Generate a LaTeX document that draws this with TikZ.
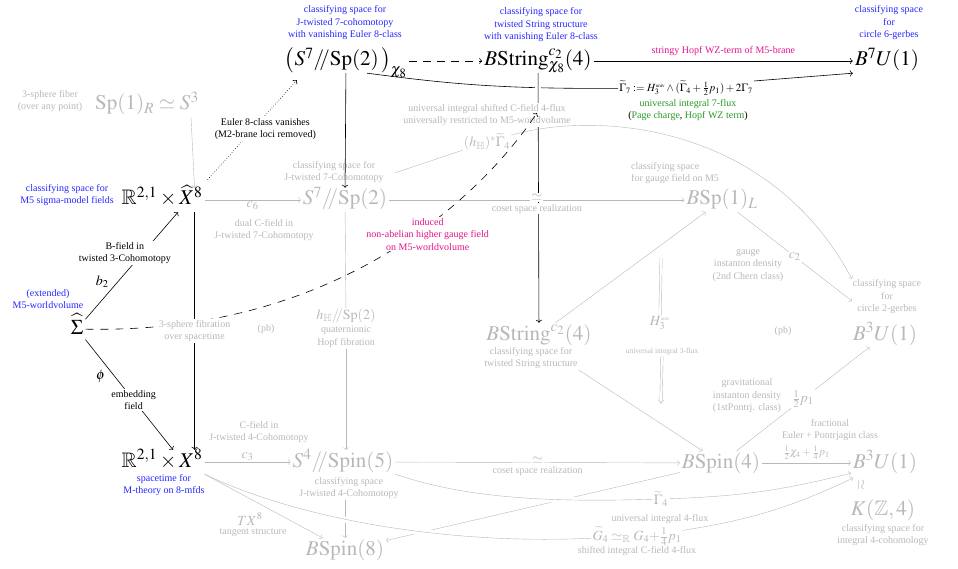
\documentclass[tikz,border=0pt]{standalone}
\usepackage{amsmath,amssymb}
\usepackage{mathptmx}
\usepackage[no-math]{fontspec}
\setmainfont{Liberation Serif}
\usepackage{graphicx}
\usetikzlibrary{arrows.meta}

\definecolor{fadedgray}{gray}{0.72}
\definecolor{bluetext}{rgb}{0.15,0.15,1}
\definecolor{pinktext}{rgb}{0.9,0.08,0.55}
\definecolor{greentext}{rgb}{0.15,0.6,0.15}

\begin{document}
\begin{tikzpicture}[x=1pt,y=-1pt,
  bigmath/.style={font=\fontsize{21}{25}\selectfont,text height=15pt,text depth=5pt,inner sep=2pt},
  midmath/.style={font=\fontsize{14}{17}\selectfont,inner sep=1pt},
  note/.style={font=\fontsize{10}{12.5}\selectfont,align=center,inner sep=1pt},
  faded/.style={text=fadedgray},
  fadedline/.style={draw=fadedgray,->},
  halo/.style={preaction={draw=white,line width=6pt,-,shorten <=4pt,shorten >=4pt}}]
\useasboundingbox (0,0) rectangle (958,569);

% top row
\node[bigmath] (cohS7) at (346,61) {$\big(S^7/\!\!/\mathrm{Sp}(2)\,\big)_{\chi_8}$};
\node[bigmath] (BStrChi) at (538,61) {$B\mathrm{String}^{c_2}_{\chi_8}(4)$};
\node[bigmath] (B7U1) at (887,61) {$B^7U(1)$};
\node[note,text=bluetext] (cohS7note) at (345,23) {classifying space for\\J-twisted 7-cohomotopy\\with vanishing Euler 8-class};
\node[note,text=bluetext] (BStrChinote) at (541,25) {classifying space for\\twisted String structure\\with vanishing Euler 8-class};
\node[note,text=bluetext] (B7U1note) at (889,23) {classifying space\\for\\circle 6-gerbes};
\node[font=\fontsize{11}{13}\selectfont,inner sep=1pt] (gam7) at (686,88) {$\widetilde{\Gamma}_7 := H_3^{\mbox{\tiny univ}}\wedge(\widetilde{\Gamma}_4+\tfrac{1}{2}p_1)+2\Gamma_7$};
\node[note] (gam7note) at (688,110) {\textcolor{greentext}{universal integral 7-flux}\\(\textcolor{greentext}{Page charge}, \textcolor{greentext}{Hopf WZ term})};

% left column
\node[bigmath,faded] (Sp1R) at (147,105) {$\mathrm{Sp}(1)_R\simeq S^3$};
\node[note,faded] (Sp1Rnote) at (50,101) {3-sphere fiber\\(over any point)};
\node[bigmath] (RXhat) at (162,200) {$\mathbb{R}^{2,1}\times\widehat{X}^8$};
\node[note,text=bluetext] (RXhatnote) at (67,195) {classifying space for\\M5 sigma-model fields};
\node[bigmath] (Sigma) at (77,329) {$\widehat{\Sigma}$};
\node[note,text=bluetext] (Sigmanote) at (48,299) {(extended)\\M5-worldvolume};
\node[bigmath] (RX) at (162,462) {$\mathbb{R}^{2,1}\times X^8$};
\node[note,text=bluetext] (RXnote) at (164,485) {spacetime for\\M-theory on 8-mfds};
\node[note,faded] (pbleft) at (266,329) {(pb)};

% middle
\node[bigmath,faded] (cohS7g) at (345,200) {$S^7/\!\!/\mathrm{Sp}(2)$};
\node[note,faded] (cohS7gnote) at (334,172) {classifying space for\\J-twisted 7-Cohomotopy};
\node[note,faded] (c6note) at (264,230) {dual C-field in\\J-twisted 7-Cohomotopy};
\node[midmath,faded] (hGam) at (487,142) {$(h_{\mathbb{H}})^*\widetilde{\Gamma}_4$};
\node[midmath,faded] (hH) at (346,316) {$h_{\mathbb{H}}/\!\!/\mathrm{Sp}(2)$};
\node[note,faded] (hHnote) at (346,337) {quaternionic\\Hopf fibration};
\node[bigmath,faded] (BStrc2) at (539,335) {$B\mathrm{String}^{c_2}(4)$};
\node[note,faded] (BStrc2note) at (531,358) {classifying space for\\twisted String structure};
\node[bigmath,faded] (BSp1L) at (722,200) {$B\mathrm{Sp}(1)_L$};
\node[note,faded,align=left,anchor=west] (BSp1Lnote) at (630,173) {classifying space\\for gauge field on M5};
\node[note,faded] (c2note) at (748,265) {gauge\\instanton density\\(2nd Chern class)};
\node[midmath,faded] (H3) at (660,323) {$H_3^{\mbox{\tiny univ}}$};
\node[font=\fontsize{7.5}{9}\selectfont,faded,inner sep=1pt] (H3note) at (662,352) {universal integral 3-flux};
\coordinate (Htop) at (661,258);
\coordinate (Hbot) at (661,404);
\node[note,faded] (pbright) at (783,331) {(pb)};

% right column
\node[bigmath,faded] (B3U1a) at (885,335) {$B^3U(1)$};
\node[note,faded] (B3U1anote) at (887,297) {classifying space\\for\\circle 2-gerbes};
\node[note,faded] (p1note) at (747,396) {gravitational\\instanton density\\(1stPontrj. class)};
\node[note,faded] (fracnote) at (830,430) {fractional\\Euler + Pontrjagin class};
\node[bigmath,faded] (BSpin4) at (721,463) {$B\mathrm{Spin}(4)$};
\node[bigmath,faded] (B3U1b) at (885,463) {$B^3U(1)$};
\node[midmath,faded] (iso) at (861,485) {\rotatebox[origin=c]{-90}{$\simeq$}};
\node[bigmath,faded] (KZ4) at (883,510) {$K(\mathbb{Z},4)$};
\node[note,faded] (KZ4note) at (883,535) {classifying space for\\integral 4-cohomology};

% bottom row
\node[bigmath,faded] (cohS4) at (343,462) {$S^4/\!\!/\mathrm{Spin}(5)$};
\node[note,faded] (cohS4note) at (349,488) {classifying space\\J-twisted 4-Cohomotopy};
\node[note,faded] (c3note) at (259,432) {C-field in\\J-twisted 4-Cohomotopy};
\node[midmath,faded] (tx8) at (250,519) {$TX^8$};
\node[note,faded] (tx8note) at (253,533) {tangent structure};
\node[bigmath,faded] (BSpin8) at (345,550) {$B\mathrm{Spin}(8)$};
\node[midmath,faded] (gam4) at (661,499) {$\widetilde{\Gamma}_4$};
\node[note,faded] (gam4note) at (660,519) {universal integral 4-flux};
\node[midmath,faded] (gtil) at (637,536) {$\widetilde{G}_4\simeq_{\mathbb{R}}G_4{+}\tfrac14 p_1$};
\node[note,faded] (gtilnote) at (637,551) {shifted integral C-field 4-flux};

% black maps
\draw[->,semithick] (cohS7) -- (cohS7g);
\draw[->,semithick,dash pattern=on 8pt off 6pt] (cohS7) -- (BStrChi);
\draw[->,semithick] (BStrChi) -- (B7U1) node[midway,above=4pt,note,text=pinktext]{stringy Hopf WZ-term of M5-brane};
\draw[semithick] ([xshift=-42pt]cohS7.south east) .. controls (450,84) and (500,89) .. (gam7);
\draw[->,semithick] ([yshift=7pt]gam7.east) -- (B7U1.south west);
\draw[->,semithick,halo] (BStrChi) -- (BStrc2);
\node[note,faded,fill=white] (fluxnote) at (487,115) {universal integral shifted C-field 4-flux\\universally restricted to M5-worldvolume};

% gray maps
\draw[fadedline] ([xshift=-10pt]Sp1R.south east) -- ([xshift=-10pt]RXhat.north east);
\draw[fadedline] (RXhat) -- (cohS7g) node[midway,below,midmath,faded]{$c_6$};
\draw[fadedline] (cohS7g) -- (BSp1L)
  node[midway,fill=white,inner sep=0.5pt,yshift=2.5pt,midmath,faded]{$\simeq$}
  node[midway,below=3pt,note,faded,fill=white]{coset space realization};
\draw[draw=fadedgray] ([shift={(6pt,15pt)}]cohS7g.north east) -- (hGam);
\draw[fadedline] (hGam) .. controls (600,110) and (770,125) .. (B3U1anote.north west);
\draw[draw=fadedgray] (cohS7g) -- (hH);
\draw[fadedline] (hHnote) -- (hHnote |- cohS4.north);
\draw[fadedline] (BStrc2) -- (BSp1L);
\draw[fadedline] (BSp1L) -- ([yshift=-4pt]B3U1anote.west) node[midway,fill=white,inner sep=0.5pt,midmath,faded]{$c_2$};
\draw[fadedline] (BStrc2note.south east) -- (BSpin4);
\draw[fadedline] (BSpin4) -- (B3U1a) node[midway,fill=white,inner sep=0.5pt,midmath,faded]{$\tfrac12 p_1$};
\draw[fadedline] (BSpin4) -- (B3U1b) node[midway,above,font=\fontsize{11}{13}\selectfont,faded]{$\tfrac12\chi_4+\tfrac14 p_1$};
\draw[draw=fadedgray,double,double distance=2pt] (Htop) -- (H3);
\draw[draw=fadedgray,double,double distance=2pt,-{Implies}] (H3note) -- (Hbot);
\draw[fadedline] (RX) -- (cohS4) node[midway,above,midmath,faded]{$c_3$};
\draw[fadedline] (cohS4) -- (BSpin4)
  node[midway,fill=white,inner sep=0.5pt,yshift=2.5pt,midmath,faded]{$\simeq$}
  node[midway,below=3pt,note,faded]{coset space realization};
\draw[fadedline] (BSpin8 |- cohS4note.south) -- (BSpin8);
\draw[fadedline] (BSpin4) -- (BSpin8);
\draw[draw=fadedgray,halo] (cohS4.south east) .. controls (470,500) and (560,502) .. (gam4);
\draw[fadedline] (gam4) to[bend right=6] ([yshift=2pt]B3U1b.south west);
\draw[draw=fadedgray,halo] (RX.south east) .. controls (300,520) and (450,545) .. (gtil);
\draw[fadedline] (gtil) to[bend right=8] ([shift={(2pt,-3pt)}]B3U1b.south west);
\draw[fadedline] (RX.south east) -- (BSpin8);

% M5 sigma-model
\coordinate (fluxtip) at (537,113);
\draw[->,semithick,dash pattern=on 8pt off 7pt] (Sigma) .. controls (330,334) and (475,205) .. (fluxtip)
  node[pos=0.6,fill=white,note,text=pinktext,xshift=6pt,yshift=-4pt]{induced\\non-abelian higher gauge field\\on M5-worldvolume};
\draw[->,semithick] ([xshift=-10pt]RXhat.south east) -- ([xshift=-10pt]RX.north east)
  node[midway,fill=white,note,faded]{3-sphere fibration\\over spacetime};
\draw[->,semithick] (Sigma) -- ([xshift=16pt]RXhat.south)
  node[pos=0.35,left=8pt,midmath]{$b_2$}
  node[pos=0.62,fill=white,note,xshift=-18pt]{B-field in\\twisted 3-Cohomotopy};
\draw[->,semithick] (Sigma) -- ([xshift=11pt]RX.north)
  node[pos=0.33,left=8pt,midmath]{$\phi$}
  node[pos=0.55,fill=white,note]{embedding\\field};
\draw[->,semithick,dotted] ([shift={(3pt,8pt)}]RXhat.north east) -- ([shift={(14pt,-7pt)}]cohS7.south west)
  node[pos=0.48,fill=white,note,xshift=15pt,yshift=3pt]{Euler 8-class vanishes\\(M2-brane loci removed)};
\end{tikzpicture}
\end{document}
